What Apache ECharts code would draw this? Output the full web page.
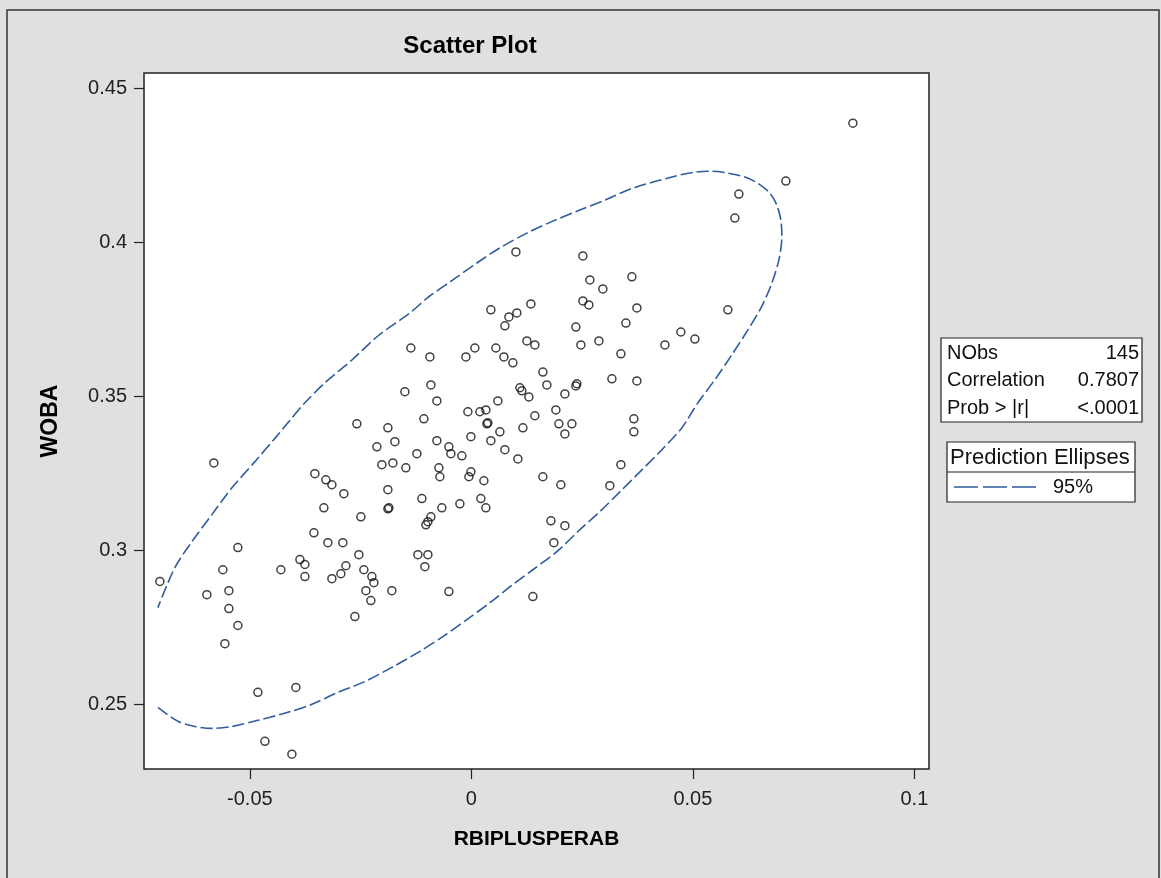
<!DOCTYPE html>
<html>
<head>
<meta charset="utf-8">
<script src="https://cdn.jsdelivr.net/npm/echarts@6/dist/echarts.min.js"></script>
<style>
  html, body { margin: 0; padding: 0; background: #e0e0e0; }
  #chart { width: 1161px; height: 878px; }
</style>
</head>
<body>
<div id="chart"></div>
<script>
// RBIPLUSPERAB (x) and WOBA (y) for the 145 observations
const xValues = [
  0.01005, 0.02517, 0.02675, 0.02968, 0.03623, 0.02517, 0.02652, 0.03736, 0.0044, 0.01343,
  0.01027, 0.00847, 0.00756, 0.02359, 0.03488, 0.02472, 0.02878, 0.03375, -0.01366, -0.00937,
  -0.00124, 0.00079, 0.00553, 0.00734, 0.00937, 0.01253, 0.01433, 0.01614, 0.01704, 0.01095,
  0.0114, 0.01298, 0.02111, 0.02359, 0.02381, 0.03172, 0.03736, -0.01501, -0.00914, -0.00779,
  -0.00079, 0.00192, 0.00327, 0.00598, 0.01433, 0.01907, -0.01072, 0.03668, 0.08612, 0.07099,
  0.06038, 0.05948, 0.0579, 0.04729, 0.05045, 0.04368, -0.02585, -0.01885, -0.01727, -0.02133,
  -0.0202, -0.01772, -0.01479, -0.05813, -0.03533, -0.03284, -0.03149, -0.02878, -0.01885, -0.01862,
  -0.01885, -0.0333, -0.02494, -0.03555, -0.03239, -0.02901, -0.0254, -0.05271, -0.03871, -0.03758,
  -0.043, -0.0561, -0.02833, -0.02946, -0.03149, -0.03758, -0.02427, -0.02246, -0.02201, -0.02381,
  -0.02269, -0.01795, -0.07032, -0.05971, -0.05474, -0.05474, -0.05271, -0.05564, -0.0263, -0.04819,
  -0.03962, -0.04661, -0.04052, 0.0035, 0.00372, 0.00643, 0.01163, 0.01975, 0.02269, 0.02111,
  0.03668, -0.00779, -0.00508, -0.00463, -0.00214, -0.00011, 0.0044, 0.00756, 0.0105, -0.0123,
  -0.00734, -0.00711, -0.00011, -0.00056, 0.00282, 0.01614, 0.0202, 0.03375, 0.03126, -0.01117,
  -0.00666, -0.0026, 0.00214, 0.00327, -0.00914, -0.01027, -0.00982, 0.01795, 0.02111, 0.01862,
  -0.01208, -0.00982, -0.0105, -0.00508, 0.01388
];
const yValues = [
  0.3968, 0.3955, 0.3877, 0.3848, 0.3887, 0.3809, 0.3796, 0.3786, 0.3780, 0.3799,
  0.3770, 0.3757, 0.3728, 0.3724, 0.3737, 0.3666, 0.3679, 0.3637, 0.3656, 0.3627,
  0.3627, 0.3656, 0.3656, 0.3627, 0.3608, 0.3679, 0.3666, 0.3578, 0.3536, 0.3527,
  0.3517, 0.3497, 0.3507, 0.3533, 0.3540, 0.3556, 0.3549, 0.3514, 0.3536, 0.3484,
  0.3449, 0.3449, 0.3455, 0.3484, 0.3436, 0.3455, 0.3426, 0.3426, 0.4386, 0.4198,
  0.4156, 0.4078, 0.3780, 0.3708, 0.3685, 0.3666, 0.3410, 0.3397, 0.3352, 0.3335,
  0.3277, 0.3283, 0.3267, 0.3283, 0.3248, 0.3228, 0.3212, 0.3183, 0.3196, 0.3137,
  0.3134, 0.3137, 0.3108, 0.3056, 0.3024, 0.3024, 0.2985, 0.3008, 0.2969, 0.2953,
  0.2936, 0.2936, 0.2949, 0.2923, 0.2907, 0.2914, 0.2936, 0.2914, 0.2894, 0.2868,
  0.2836, 0.2868, 0.2898, 0.2855, 0.2868, 0.2810, 0.2755, 0.2696, 0.2784, 0.2538,
  0.2554, 0.2379, 0.2337, 0.3410, 0.3413, 0.3384, 0.3397, 0.3410, 0.3410, 0.3377,
  0.3384, 0.3355, 0.3335, 0.3313, 0.3306, 0.3368, 0.3355, 0.3326, 0.3296, 0.3313,
  0.3267, 0.3238, 0.3254, 0.3238, 0.3225, 0.3238, 0.3212, 0.3277, 0.3209, 0.3167,
  0.3137, 0.3150, 0.3167, 0.3137, 0.3108, 0.3082, 0.3092, 0.3095, 0.3079, 0.3024,
  0.2985, 0.2985, 0.2946, 0.2865, 0.2849
];

// 95% prediction ellipse (clipped at the left)
const ellipseX = [
  -0.07077, -0.06625, -0.06242, -0.05835, -0.05406, -0.04819, -0.04142, -0.036, -0.03014, -0.02404,
  -0.01795, -0.01163, -0.00643, -0.00102, 0.00418, 0.00937, 0.01388, 0.0193, 0.02449, 0.02901,
  0.03352, 0.03804, 0.04255, 0.04752, 0.05113, 0.05497, 0.0588, 0.06242, 0.06558,
  0.06783, 0.06941, 0.07009, 0.06986, 0.06896, 0.06738, 0.06467, 0.06174, 0.0579, 0.05429,
  0.05045, 0.04594, 0.03646, 0.03059, 0.02449, 0.0184, 0.01253, 0.00643, 0.00124,
  -0.00418, -0.00937, -0.01388, -0.02111, -0.02698, -0.03307, -0.03758, -0.04142, -0.04368, -0.04887,
  -0.05406, -0.05858, -0.06309, -0.06693, -0.07077
];
const ellipseY = [
  0.2489, 0.2444, 0.2427, 0.2421, 0.2427, 0.2447, 0.2473, 0.2499, 0.2538, 0.2573,
  0.2619, 0.2671, 0.2719, 0.2774, 0.2829, 0.2888, 0.2936, 0.2995, 0.3066, 0.3125,
  0.3189, 0.3254, 0.3319, 0.3397, 0.3478, 0.3553, 0.3634, 0.3715, 0.3792,
  0.3867, 0.3942, 0.4019, 0.4071, 0.4120, 0.4159, 0.4191, 0.4211, 0.4224, 0.4230,
  0.4227, 0.4214, 0.4175, 0.4139, 0.4104, 0.4068, 0.4029, 0.3981, 0.3932,
  0.3877, 0.3825, 0.3770, 0.3695, 0.3617, 0.3543, 0.3478, 0.3413, 0.3374, 0.3287,
  0.3202, 0.3115, 0.3027, 0.2943, 0.2813
];

const xTicks = [-0.05, 0, 0.05, 0.1];
const yTicks = [0.25, 0.3, 0.35, 0.4, 0.45];

const statLabels = ["NObs", "Correlation", "Prob > |r|"];
const statValues = ["145", "0.7807", "<.0001"];
const ellipseLevel = "95%";

const FONT = "Liberation Sans, Arial, sans-serif";
const ELLIPSE_COLOR = "#2f5c9c";

const points = xValues.map((x, i) => [x, yValues[i]]);
const ellipse = ellipseX.map((x, i) => [x, ellipseY[i]]);

// frame, title, stats inset and legend drawn as graphic
let graphics = [
  { type: "rect", shape: { x: 7, y: 10, width: 1152, height: 872 },
    style: { fill: "none", stroke: "#333", lineWidth: 1.5 }, silent: true },
  { type: "text", style: { text: "Scatter Plot", x: 470, y: 46, align: "center", verticalAlign: "middle",
    font: "bold 24px " + FONT, fill: "#000" } },
  { type: "rect", shape: { x: 941, y: 338, width: 201, height: 84 },
    style: { fill: "#fff", stroke: "#222", lineWidth: 1.2 } }
];
statLabels.forEach((lab, i) => {
  const y = 353 + i * 27.5;
  graphics.push({ type: "text", style: { text: lab, x: 947, y: y, verticalAlign: "middle",
    font: "20px " + FONT, fill: "#111" } });
  graphics.push({ type: "text", style: { text: statValues[i], x: 1139, y: y, align: "right",
    verticalAlign: "middle", font: "20px " + FONT, fill: "#111" } });
});
graphics = graphics.concat([
  { type: "rect", shape: { x: 947, y: 442, width: 188, height: 60 },
    style: { fill: "#fff", stroke: "#222", lineWidth: 1.2 } },
  { type: "line", shape: { x1: 947, y1: 472, x2: 1135, y2: 472 },
    style: { stroke: "#222", lineWidth: 1.2 } },
  { type: "text", style: { text: "Prediction Ellipses", x: 950, y: 457.5, verticalAlign: "middle",
    font: "22px " + FONT, fill: "#111" } },
  { type: "line", shape: { x1: 954, y1: 487, x2: 1038, y2: 487 },
    style: { stroke: ELLIPSE_COLOR, lineWidth: 1.5, lineDash: [24, 5] } },
  { type: "text", style: { text: ellipseLevel, x: 1053, y: 487, verticalAlign: "middle",
    font: "20px " + FONT, fill: "#111" } }
]);

const chart = echarts.init(document.getElementById("chart"));
chart.setOption({
  backgroundColor: "#e0e0e0",
  animation: false,
  grid: {
    left: 144, top: 73, right: 232, bottom: 109,
    show: true, backgroundColor: "#fff", borderColor: "#222", borderWidth: 1.5
  },
  xAxis: {
    type: "value",
    min: -0.0739, max: 0.1033,
    name: "RBIPLUSPERAB",
    nameLocation: "middle",
    nameGap: 60,
    nameTextStyle: { fontFamily: FONT, fontWeight: "bold", fontSize: 21, color: "#000" },
    axisLine: { show: false, onZero: false },
    axisTick: { show: true, length: 10, customValues: xTicks, lineStyle: { color: "#222", width: 1.2 } },
    axisLabel: { customValues: xTicks, margin: 20, fontFamily: FONT, fontSize: 20, color: "#222" },
    splitLine: { show: false }
  },
  yAxis: {
    type: "value",
    min: 0.2289, max: 0.4549,
    name: "WOBA",
    nameLocation: "middle",
    nameGap: 82,
    nameTextStyle: { fontFamily: FONT, fontWeight: "bold", fontSize: 23, color: "#000" },
    axisLine: { show: false, onZero: false },
    axisTick: { show: true, length: 10, customValues: yTicks, lineStyle: { color: "#222", width: 1.2 } },
    axisLabel: { customValues: yTicks, margin: 17, fontFamily: FONT, fontSize: 20, color: "#222" },
    splitLine: { show: false }
  },
  series: [
    {
      type: "line",
      data: ellipse,
      smooth: 0.3,
      symbol: "none",
      lineStyle: { color: ELLIPSE_COLOR, width: 1.6, type: [12, 4] },
      z: 2
    },
    {
      type: "scatter",
      data: points,
      symbol: "circle",
      symbolSize: 8,
      itemStyle: { color: "rgba(0,0,0,0)", borderColor: "#111", borderWidth: 1.5 },
      z: 3
    }
  ],
  graphic: graphics
});
</script>
</body>
</html>
